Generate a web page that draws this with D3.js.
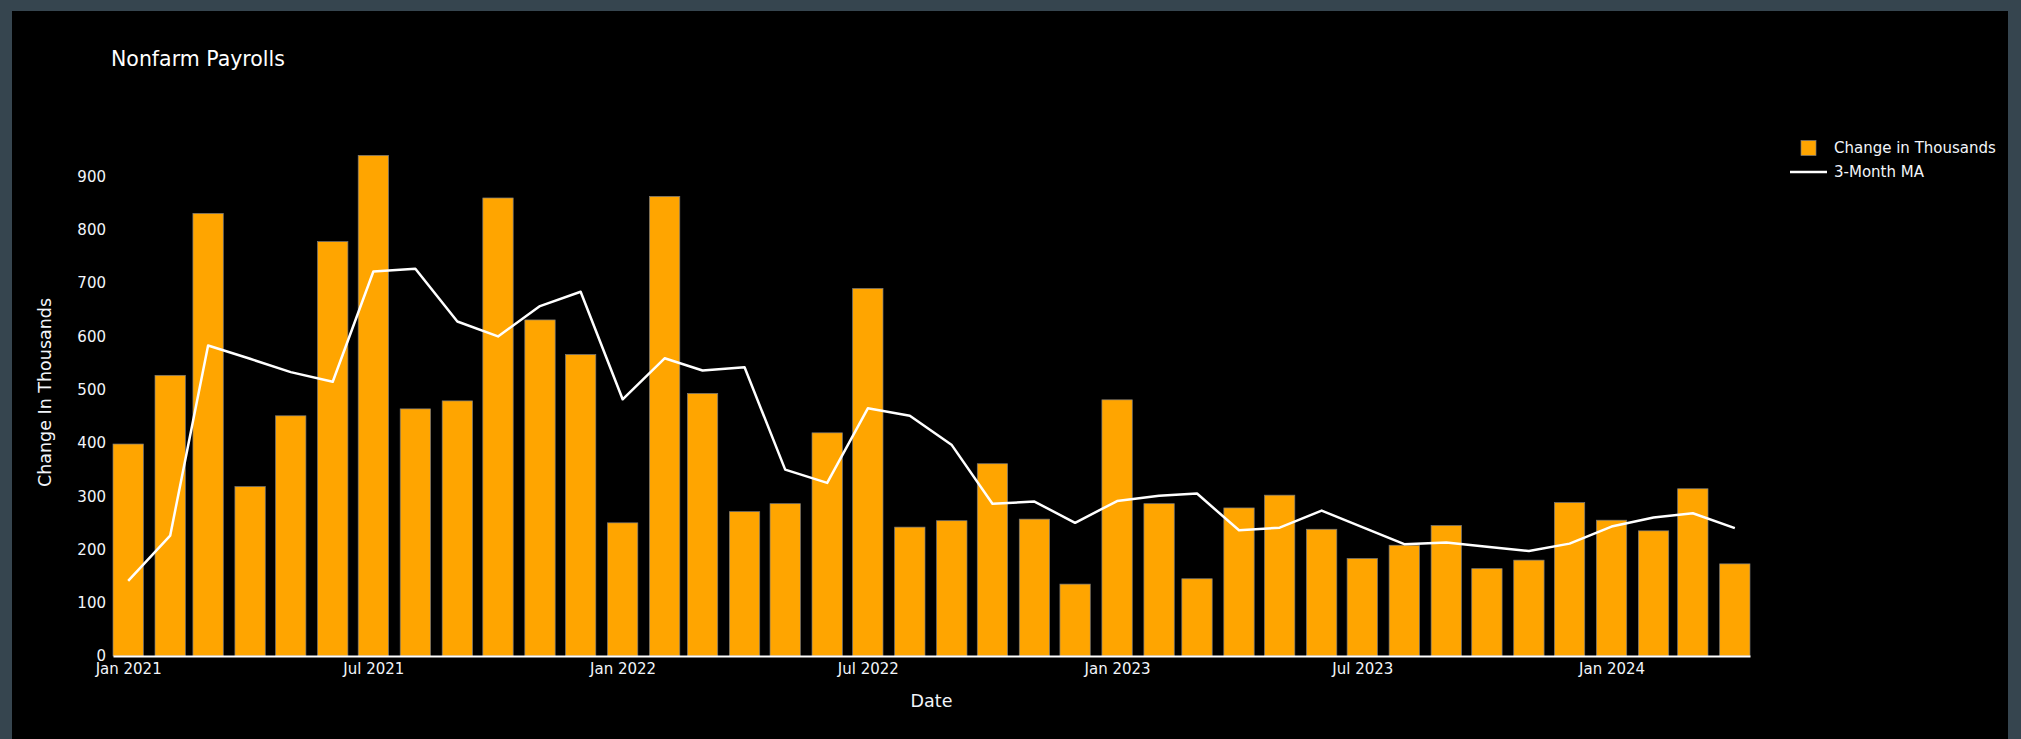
<!DOCTYPE html>
<html>
<head>
<meta charset="utf-8">
<script src="https://cdn.jsdelivr.net/npm/d3@7"></script>
<style>
  html, body { margin: 0; padding: 0; background: #36454f; }
  svg { display: block; }
</style>
</head>
<body>
<svg id="chart" width="2021" height="739"></svg>
<script>
// monthly data, Jan 2021 .. Apr 2024
var months = [
    "2021-01", "2021-02", "2021-03", "2021-04", "2021-05", "2021-06",
    "2021-07", "2021-08", "2021-09", "2021-10", "2021-11", "2021-12",
    "2022-01", "2022-02", "2022-03", "2022-04", "2022-05", "2022-06",
    "2022-07", "2022-08", "2022-09", "2022-10", "2022-11", "2022-12",
    "2023-01", "2023-02", "2023-03", "2023-04", "2023-05", "2023-06",
    "2023-07", "2023-08", "2023-09", "2023-10", "2023-11", "2023-12",
    "2024-01", "2024-02", "2024-03", "2024-04"
];
var changeK = [
    398, 527, 831, 318, 451, 778, 940, 464, 479, 860, 631, 566,
    250, 863, 493, 271, 286, 419, 690, 242, 254, 361, 257, 135,
    481, 286, 145, 278, 302, 238, 183, 208, 245, 164, 180, 288,
    255, 235, 314, 173
];
var ma3 = [
    141, 226, 583, 558, 533, 515, 722, 727, 628, 600, 657, 684,
    482, 559, 536, 542, 350, 325, 465, 451, 396, 286, 290, 250,
    291, 301, 305, 236, 241, 273, 242, 210, 213, 205, 197, 211,
    243, 260, 268, 240
];
var xTickLabels = ["2021-01", "2021-07", "2022-01", "2022-07", "2023-01", "2023-07", "2024-01"];
var yTicks = [0, 100, 200, 300, 400, 500, 600, 700, 800, 900];
var yMax = 989.5;

var parse = d3.timeParse("%Y-%m");
var data = months.map(function (m, i) { return { date: parse(m), value: changeK[i], ma: ma3[i] }; });

var svg = d3.select("#chart"),
    textColor = "#f2f5fa",
    font = "'DejaVu Sans', Verdana, sans-serif",
    plot = { left: 113, right: 1750, top: 129, bottom: 656 };

// black paper
svg.append("rect")
    .attr("x", 12).attr("y", 11)
    .attr("width", 1996).attr("height", 740)
    .attr("fill", "#000");

// half a bar (in days) on each end, like plotly autorange for bars
var halfBar = 11.2 * 864e5;
var x = d3.scaleTime()
    .domain([new Date(data[0].date.getTime() - halfBar), new Date(data[data.length - 1].date.getTime() + halfBar)])
    .range([plot.left, plot.right]);

var y = d3.scaleLinear()
    .domain([0, yMax])
    .range([plot.bottom, plot.top]);

var barW = x(new Date(data[0].date.getTime() + 2 * halfBar)) - x(data[0].date);

var g = svg.append("g");

g.selectAll("rect.bar")
    .data(data)
    .enter().append("rect")
    .attr("class", "bar")
    .attr("x", function (d) { return x(d.date) - barW / 2; })
    .attr("y", function (d) { return y(d.value); })
    .attr("width", barW)
    .attr("height", function (d) { return y(0) - y(d.value); })
    .attr("fill", "#FFA500")
    .attr("stroke", "#7a7a7a")
    .attr("stroke-width", 0.7);

var line = d3.line()
    .x(function (d) { return x(d.date); })
    .y(function (d) { return y(d.ma); });

g.append("path")
    .datum(data)
    .attr("d", line)
    .attr("fill", "none")
    .attr("stroke", "#ffffff")
    .attr("stroke-width", 2.5)
    .attr("stroke-linejoin", "round");

// x axis
var xAxis = svg.append("g")
    .attr("transform", "translate(0," + plot.bottom + ")")
    .call(d3.axisBottom(x)
        .tickValues(xTickLabels.map(parse))
        .tickFormat(d3.timeFormat("%b %Y"))
        .tickSize(0)
        .tickSizeOuter(0)
        .tickPadding(7));
xAxis.select(".domain").attr("stroke", "#ffffff").attr("stroke-width", 2.2);
xAxis.selectAll("text")
    .attr("fill", textColor)
    .attr("font-family", font)
    .attr("font-size", 15);

// y axis
var yAxis = svg.append("g")
    .attr("transform", "translate(" + (plot.left - 7) + ",0)")
    .call(d3.axisLeft(y).tickValues(yTicks).tickSize(0).tickPadding(0));
yAxis.select(".domain").remove();
yAxis.selectAll("text")
    .attr("fill", textColor)
    .attr("font-family", font)
    .attr("font-size", 15);

// titles
svg.append("text")
    .attr("x", 111)
    .attr("y", 59)
    .attr("dominant-baseline", "central")
    .attr("fill", "#ffffff")
    .attr("font-family", font)
    .attr("font-size", 20.5)
    .text("Nonfarm Payrolls");

svg.append("text")
    .attr("x", (plot.left + plot.right) / 2)
    .attr("y", 701)
    .attr("text-anchor", "middle")
    .attr("dominant-baseline", "central")
    .attr("fill", textColor)
    .attr("font-family", font)
    .attr("font-size", 17.5)
    .text("Date");

svg.append("text")
    .attr("transform", "translate(45," + (plot.top + plot.bottom) / 2 + ")rotate(-90)")
    .attr("text-anchor", "middle")
    .attr("dominant-baseline", "central")
    .attr("fill", textColor)
    .attr("font-family", font)
    .attr("font-size", 17.5)
    .text("Change In Thousands");

// legend
var legend = svg.append("g").attr("transform", "translate(1790,148)");

legend.append("rect")
    .attr("x", 11).attr("y", -7.5)
    .attr("width", 15).attr("height", 15)
    .attr("fill", "#FFA500")
    .attr("stroke", "#7a7a7a")
    .attr("stroke-width", 0.7);

legend.append("text")
    .attr("x", 44).attr("y", 0)
    .attr("dominant-baseline", "central")
    .attr("fill", textColor)
    .attr("font-family", font)
    .attr("font-size", 15)
    .text("Change in Thousands");

legend.append("line")
    .attr("x1", 0).attr("x2", 37)
    .attr("y1", 24).attr("y2", 24)
    .attr("stroke", "#ffffff")
    .attr("stroke-width", 2.5);

legend.append("text")
    .attr("x", 44).attr("y", 24)
    .attr("dominant-baseline", "central")
    .attr("fill", textColor)
    .attr("font-family", font)
    .attr("font-size", 15)
    .text("3-Month MA");
</script>
</body>
</html>
